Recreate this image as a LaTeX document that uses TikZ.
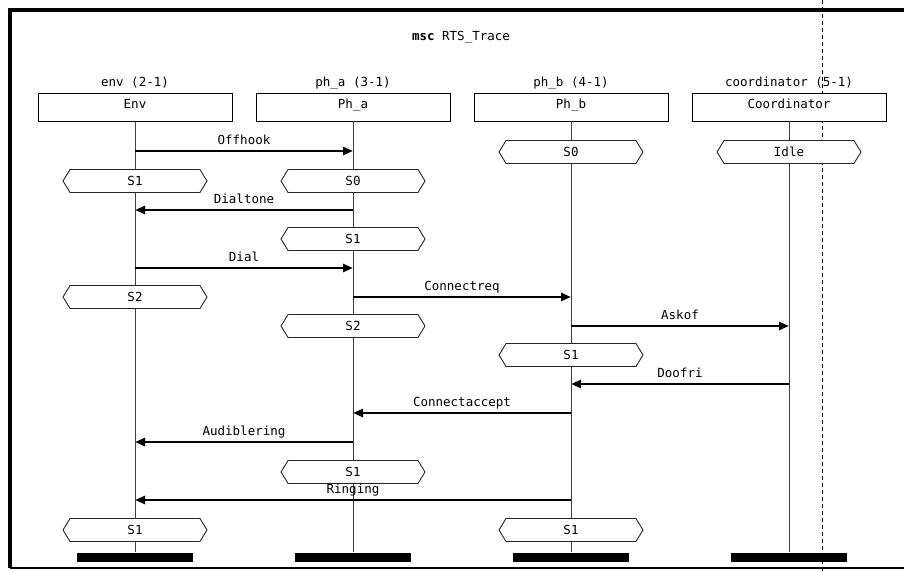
\documentclass[tikz,border=0pt]{standalone}
\usepackage{fontspec}
\setmainfont{DejaVu Sans Mono}
\usetikzlibrary{arrows.meta,shapes.symbols}

\begin{document}
\begin{tikzpicture}[x=1pt,y=-1pt,font=\fontsize{12.5}{14}\selectfont]
\useasboundingbox (0,0) rectangle (904,572);
\tikzstyle{instance}=[rectangle,draw,fill=white,minimum width=194pt,minimum height=28pt,inner sep=0pt,text height=9pt,text depth=6pt]
\tikzstyle{cond}=[signal,signal to=west and east,signal pointer angle=117,draw=black!85,line width=0.9pt,fill=white,minimum width=144pt,minimum height=23pt,inner sep=0pt]
\tikzstyle{endbar}=[rectangle,fill=black,minimum width=116pt,minimum height=9pt,inner sep=0pt]
\tikzstyle{lifeline}=[draw=black!75,line width=0.9pt]
\tikzstyle{msg}=[line width=2.7pt,-{Triangle[length=10pt,width=8pt]}]
\tikzstyle{msglbl}=[above=2pt,inner sep=0pt,text height=9pt,text depth=3pt]
% page break line and frame
\draw[dash pattern=on 4pt off 3pt,line width=0.8pt] (822,0) -- (822,572);
\draw[line width=3.5pt] (910,10) -- (10,10) -- (10,568);
\draw[line width=2.5pt] (10,568) -- (910,568);
\node (title) at (461,37) {\textbf{msc} RTS\_Trace};
% instances
\node (envname) at (135,83) {env (2-1)};
\node[instance] (env) at (135,107) {Env};
\node (phaname) at (353,83) {ph\_a (3-1)};
\node[instance] (pha) at (353,107) {Ph\_a};
\node (phbname) at (571,83) {ph\_b (4-1)};
\node[instance] (phb) at (571,107) {Ph\_b};
\node (coordname) at (789,83) {coordinator (5-1)};
\node[instance] (coord) at (789,107) {Coordinator};
\node[endbar] (envend) at (135,557) {};
\node[endbar] (phaend) at (353,557) {};
\node[endbar] (phbend) at (571,557) {};
\node[endbar] (coordend) at (789,557) {};
\draw[lifeline] (env) -- (envend);
\draw[lifeline] (pha) -- (phaend);
\draw[lifeline] (phb) -- (phbend);
\draw[lifeline] (coord) -- (coordend);
% conditions
\node[cond] (phbsa) at (571,152) {S0};
\node[cond] (idle) at (789,152) {Idle};
\node[cond] (envsa) at (135,181) {S1};
\node[cond] (phasa) at (353,181) {S0};
\node[cond] (phasb) at (353,239) {S1};
\node[cond] (envsb) at (135,297) {S2};
\node[cond] (phasc) at (353,326) {S2};
\node[cond] (phbsb) at (571,355) {S1};
\node[cond] (phasd) at (353,472) {S1};
\node[cond] (envsc) at (135,530) {S1};
\node[cond] (phbsc) at (571,530) {S1};
% messages
\draw[msg] (env |- 0,151) -- node[msglbl]{Offhook} (pha |- 0,151);
\draw[msg] (pha |- 0,210) -- node[msglbl]{Dialtone} (env |- 0,210);
\draw[msg] (env |- 0,268) -- node[msglbl]{Dial} (pha |- 0,268);
\draw[msg] (pha |- 0,297) -- node[msglbl]{Connectreq} (phb |- 0,297);
\draw[msg] (phb |- 0,326) -- node[msglbl]{Askof} (coord |- 0,326);
\draw[msg] (coord |- 0,384) -- node[msglbl]{Doofri} (phb |- 0,384);
\draw[msg] (phb |- 0,413) -- node[msglbl]{Connectaccept} (pha |- 0,413);
\draw[msg] (pha |- 0,442) -- node[msglbl]{Audiblering} (env |- 0,442);
\draw[msg] (phb |- 0,500) -- node[msglbl]{Ringing} (env |- 0,500);
\end{tikzpicture}
\end{document}
